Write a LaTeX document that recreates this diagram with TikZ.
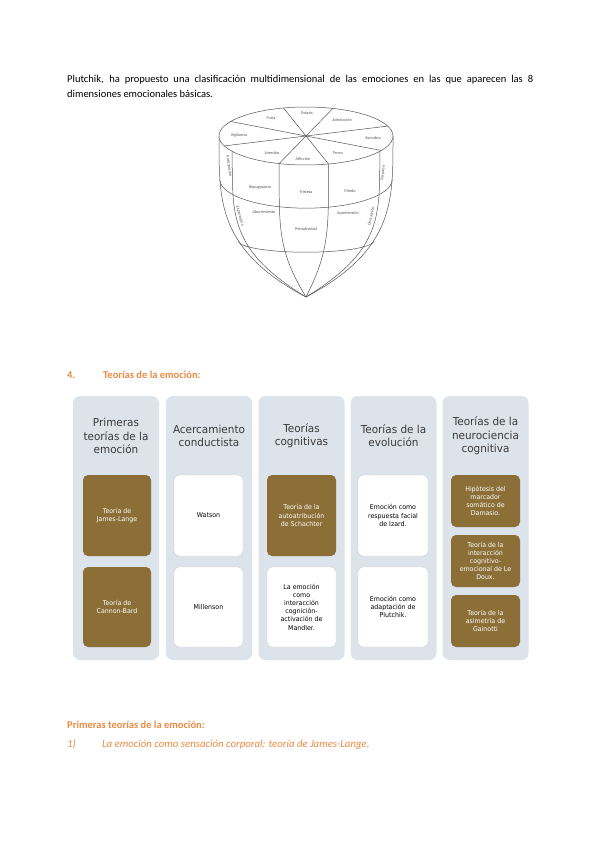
\documentclass[tikz,border=0pt]{standalone}
\usepackage{fontspec}
\setmainfont{Carlito}
\newfontfamily\smart[FakeStretch=0.95]{DejaVu Sans}
\definecolor{orangetxt}{HTML}{EC8A45}
\definecolor{colbg}{HTML}{DDE3EB}
\definecolor{gold}{HTML}{8C6E37}
\definecolor{titletxt}{HTML}{3A3A3A}
\definecolor{conecol}{HTML}{555555}
\tikzset{
  declare function={sc(\u)=1-\u*\u*\u*sqrt(\u); gc(\u)=1-1.31*max(\u-0.27,0);},
  body/.style={inner sep=0pt, anchor=base west, font=\fontsize{10.5}{12}\selectfont},
  orangehead/.style={inner sep=0pt, anchor=base west, text=orangetxt, font=\bfseries\fontsize{10.5}{12}\selectfont},
  orangeit/.style={inner sep=0pt, anchor=base west, text=orangetxt, font=\itshape\fontsize{10.8}{12}\selectfont},
  conel/.style={draw=conecol, line width=0.5pt},
  conelab/.style={inner sep=0pt, text=conecol, font=\fontsize{4.2}{5}\selectfont},
  colbox/.style={fill=colbg, rounded corners=7pt, minimum width=86pt, minimum height=264pt, inner sep=0pt},
  coltitle/.style={inner sep=0pt, align=center, text=titletxt, font=\smart\fontsize{11}{13.3}\selectfont},
  goldbox/.style={fill=gold, rounded corners=5pt, text=white, align=center, inner sep=1pt, font=\smart\fontsize{6.6}{8.2}\selectfont},
  whitebox/.style={fill=white, draw=gray!35, line width=0.4pt, rounded corners=5pt, text=black, align=center, inner sep=1pt, font=\smart\fontsize{6.6}{8.2}\selectfont}
}
\begin{document}
\begin{tikzpicture}[x=1pt,y=-1pt]
\useasboundingbox (0,0) rectangle (600,848);
\fill[white] (0,0) rectangle (600,848);

% intro text
\node[body] (intro1) at (67,83) {\makebox[466pt][s]{Plutchik, ha propuesto una clasificación multidimensional de las emociones en las que aparecen las 8}};
\node[body] (intro2) at (67,98) {dimensiones emocionales básicas.};

% ---- Plutchik cone ----
% silhouette
\draw[conel] plot[domain=0:1,samples=60,smooth] ({306-87*sc(\x)},{136+161*\x})
  -- plot[domain=1:0,samples=60,smooth] ({306+87*sc(\x)},{136+161*\x});
% meridians
\foreach \a in {148,108,75,32}
  \draw[conel] plot[domain=0:1,samples=60,smooth] ({306+87*sc(\x)*cos(\a)},{136+161*\x+29*sc(\x)*gc(\x)*sin(\a)});
% bands
\draw[conel] plot[domain=0:180,samples=60,smooth] ({306+87*sc(0.27)*cos(\x)},{136+161*0.27+29*sc(0.27)*gc(0.27)*sin(\x)});
\draw[conel] plot[domain=0:180,samples=60,smooth] ({306+87*sc(0.652)*cos(\x)},{136+161*0.652+29*sc(0.652)*gc(0.652)*sin(\x)});
% top disc
\draw[conel, fill=white] (306,136) ellipse [x radius=87pt, y radius=29pt];
\foreach \a in {-105,-72,-20,30,75,108,160,-150}
  \draw[conel] (306,136) -- ({306+87*cos(\a)},{136+29*sin(\a)});
% labels
\node[conelab] (lfuria) at (271,118) {Furia};
\node[conelab] (lextasis) at (307,113) {Éxtasis};
\node[conelab] (ladmir) at (342,120) {Admiración};
\node[conelab] (lasombro) at (373,138) {Asombro};
\node[conelab] (lterror) at (338,153) {Terror};
\node[conelab] (laflic) at (303,159) {Aflicción};
\node[conelab] (lavers) at (272,153) {Aversión};
\node[conelab] (lvigil) at (239,135) {Vigilancia};
\node[conelab] (lrepug) at (260,187) {Repugnancia};
\node[conelab] (ltrist) at (306,192) {Tristeza};
\node[conelab] (lmiedo) at (350,191) {Miedo};
\node[conelab] (laburr) at (264,212) {Aburrimiento};
\node[conelab] (lpensa) at (306,229) {Pensatividad};
\node[conelab] (laprehe) at (348,213) {Aprehensión};
\node[conelab, rotate=-82] (lantic) at (229,166) {Anticipación};
\node[conelab, rotate=-75] (linter) at (240,216) {Expectación};
\node[conelab, rotate=84] (lsorp) at (383,173) {Sorpresa};
\node[conelab, rotate=78] (ldistr) at (371,216) {Distracción};

% ---- heading ----
\node[orangehead] (h4) at (67,378) {4.};
\node[orangehead] (h4t) at (103,378) {Teorías de la emoción:};

% ---- columns ----
\node[colbox] (c1) at (116,528) {};
\node[colbox] (c2) at (209,528) {};
\node[colbox] (c3) at (301.5,528) {};
\node[colbox] (c4) at (393.5,528) {};
\node[colbox] (c5) at (485.5,528) {};

\node[coltitle] (t1) at (116,436) {Primeras\\teorías de la\\emoción};
\node[coltitle] (t2) at (209,436) {Acercamiento\\conductista};
\node[coltitle] (t3) at (301.5,436) {Teorías\\cognitivas};
\node[coltitle] (t4) at (393.5,436) {Teorías de la\\evolución};
\node[coltitle] (t5) at (485.5,436) {Teorías de la\\neurociencia\\cognitiva};

\node[goldbox, minimum width=68pt, minimum height=81pt] (b11) at (117,515.5) {Teoría de\\James-Lange};
\node[goldbox, minimum width=68pt, minimum height=80pt] (b12) at (117,607) {Teoría de\\Cannon-Bard};
\node[whitebox, minimum width=69pt, minimum height=81pt] (b21) at (208.5,515.5) {Watson};
\node[whitebox, minimum width=69pt, minimum height=80pt] (b22) at (208.5,607) {Millenson};
\node[goldbox, minimum width=69pt, minimum height=81pt] (b31) at (301.5,515.5) {Teoría de la\\autoatribución\\de Schachter};
\node[whitebox, minimum width=69pt, minimum height=80pt] (b32) at (301.5,607) {La emoción\\como\\interacción\\cognición-\\activación de\\Mandler.};
\node[whitebox, minimum width=70pt, minimum height=81pt] (b41) at (393,515.5) {Emoción como\\respuesta facial\\de Izard.};
\node[whitebox, minimum width=70pt, minimum height=80pt] (b42) at (393,607) {Emoción como\\adaptación de\\Plutchik.};
\node[goldbox, minimum width=69pt, minimum height=52pt] (b51) at (485.5,501) {Hipótesis del\\marcador\\somático de\\Damasio.};
\node[goldbox, minimum width=69pt, minimum height=52pt] (b52) at (485.5,561) {Teoría de la\\interacción\\cognitivo-\\emocional de Le\\Doux.};
\node[goldbox, minimum width=69pt, minimum height=52pt] (b53) at (485.5,621) {Teoría de la\\asimetría de\\Gainotti};

% ---- bottom text ----
\node[orangehead] (sub) at (67,728) {Primeras teorías de la emoción:};
\node[orangeit] (n1) at (67,747) {1)};
\node[orangeit] (n1t) at (102,747) {La emoción como sensación corporal: teoría de James-Lange.};
\end{tikzpicture}
\end{document}
